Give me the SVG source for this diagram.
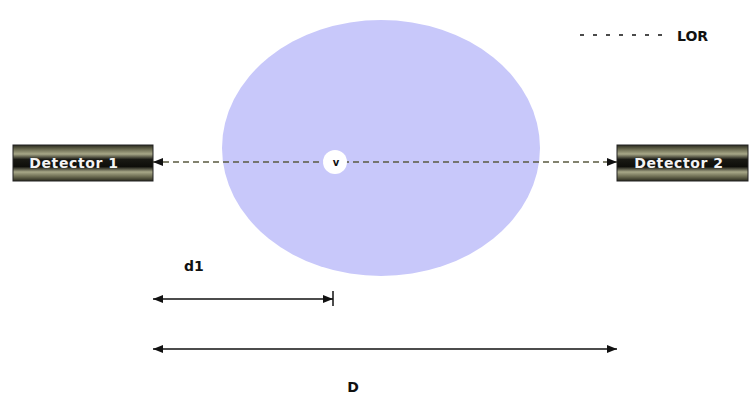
<svg xmlns="http://www.w3.org/2000/svg" width="752" height="396" viewBox="0 0 752 396">
<style>
.lbl{font-family:"DejaVu Sans",Verdana,sans-serif;font-weight:bold;fill:#111}
.det{font-family:"DejaVu Sans",Verdana,sans-serif;font-weight:bold;font-size:14px;letter-spacing:0.6px;fill:#f4f4f4}
.dim{stroke:#111;stroke-width:1.5;fill:none}
</style>
<defs>
<linearGradient id="dg" x1="0" y1="0" x2="0" y2="1">
<stop offset="0" stop-color="#2a2a1e"/>
<stop offset="0.12" stop-color="#6a6a50"/>
<stop offset="0.25" stop-color="#a8a888"/>
<stop offset="0.4" stop-color="#1a1a14"/>
<stop offset="0.6" stop-color="#0e0e0a"/>
<stop offset="0.75" stop-color="#a8a888"/>
<stop offset="0.88" stop-color="#6a6a50"/>
<stop offset="1" stop-color="#2a2a1e"/>
</linearGradient>
<marker id="ah" viewBox="0 0 10 10" refX="10" refY="5" markerWidth="12" markerHeight="10" markerUnits="userSpaceOnUse" orient="auto-start-reverse">
<path d="M0,1 L10,5 L0,9 z" fill="#111"/>
</marker>
</defs>
<ellipse cx="381" cy="148" rx="159" ry="128" fill="#c8c8fa"/>
<g id="connectors">
<line x1="153" y1="162" x2="617" y2="162" stroke="#5a5a40" stroke-width="1.3" stroke-dasharray="6,4" marker-start="url(#ah)" marker-end="url(#ah)"/>
<line class="dim" x1="153" y1="299" x2="333" y2="299" marker-start="url(#ah)" marker-end="url(#ah)"/>
<line class="dim" x1="333" y1="291" x2="333" y2="306"/>
<line class="dim" x1="153" y1="349" x2="617" y2="349" marker-start="url(#ah)" marker-end="url(#ah)"/>
</g>
<g id="v">
<circle cx="335" cy="162" r="12" fill="#ffffff"/>
<text x="336" y="166" class="lbl" font-size="10" text-anchor="middle">v</text>
</g>
<g id="detector1">
<rect x="13" y="145" width="140" height="36" fill="url(#dg)" stroke="#222" stroke-width="1"/>
<text x="74" y="168" class="det" text-anchor="middle">Detector 1</text>
</g>
<g id="detector2">
<rect x="617" y="145" width="131" height="36" fill="url(#dg)" stroke="#222" stroke-width="1"/>
<text x="679" y="168" class="det" text-anchor="middle">Detector 2</text>
</g>
<g id="legend">
<line x1="580" y1="35" x2="662" y2="35" stroke="#111" stroke-width="1.5" stroke-dasharray="4,9"/>
<text x="677" y="41" class="lbl" font-size="14">LOR</text>
</g>
<text x="184" y="271" class="lbl" font-size="14">d1</text>
<text x="353" y="392" class="lbl" font-size="14" text-anchor="middle">D</text>
</svg>
